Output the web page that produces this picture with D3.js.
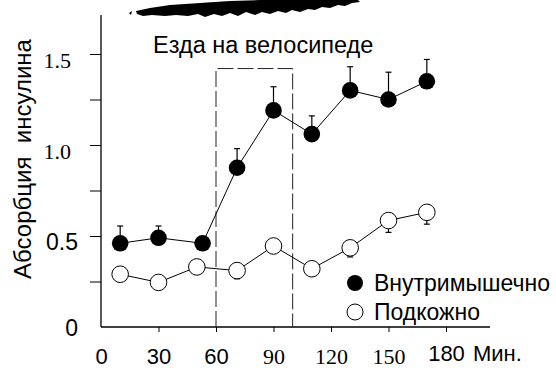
<!DOCTYPE html>
<html><head><meta charset="utf-8">
<script src="https://cdn.jsdelivr.net/npm/d3@7"></script>
<style>
html,body{margin:0;padding:0;background:#fff;}
svg{display:block;}
.sans{font-family:"Liberation Sans",Arial,sans-serif;}
.serif{font-family:"Liberation Serif","Times New Roman",serif;}
</style></head>
<body>
<svg id="c" width="556" height="370"></svg>
<script>
// ---- data ----
const imMinutes = [10, 30, 53, 71, 90, 110, 130, 150, 170];
const imValues  = [0.46, 0.49, 0.46, 0.875, 1.19, 1.06, 1.30, 1.25, 1.35];
const imErrTop  = [0.555, 0.555, null, 0.98, 1.32, 1.16, 1.43, 1.40, 1.47];
const scMinutes = [10, 30, 50, 71, 90, 110, 130, 150, 170];
const scValues  = [0.29, 0.245, 0.33, 0.31, 0.445, 0.32, 0.435, 0.585, 0.63];
const scErrBot  = [null, null, null, 0.265, null, null, 0.385, 0.52, 0.565];
const xTickValues = [0, 30, 60, 90, 120, 150, 180];
const xTickFonts  = ["sans", "sans", "sans", "serif", "serif", "serif", "sans"];
const yTickValues = [0, 0.25, 0.5, 0.75, 1.0, 1.25, 1.5];
const yTickLabels = ["0", "", "0.5", "", "1.0", "", "1.5"];
const yTickFonts  = ["sans", "sans", "sans", "sans", "serif", "sans", "serif"];
const exercisePeriod = [60, 100];
const exerciseTop = 1.42;
const seriesNames = ["Внутримышечно", "Подкожно"];
const titleText = "Езда на велосипеде";
const yLabel = "Абсорбция\u00a0\u00a0инсулина";
const xUnit = "Мин.";

const svg = d3.select("#c");
const x = d3.scaleLinear().domain([0, 180]).range([101, 446]);
const y = d3.scaleLinear().domain([0, 1.5]).range([327, 54]);
const xEnd = 490, yTop = 15;

// scribble artifact at top
svg.append("path")
  .attr("d", "M129,13 L132,11 L131,15 Z M136,11 L150,8 L170,5 L200,3 L230,1 L260,0 L300,0 L358,0 L360,2 L352,3 L345,6 L338,5 L330,8 L322,7 L315,10 L308,9 L300,12 L292,10 L286,13 L278,11 L270,14 L262,12 L255,15 L246,12 L238,16 L230,13 L222,16 L214,14 L205,17 L198,14 L188,16 L176,15 L165,16 L152,15 L143,16 L137,14 Z")
  .attr("fill", "#000");

// axes lines
svg.append("line").attr("x1", x(0)).attr("x2", xEnd).attr("y1", y(0)).attr("y2", y(0))
  .attr("stroke", "#000").attr("stroke-width", 1.3);
svg.append("line").attr("x1", x(0)).attr("x2", x(0)).attr("y1", yTop).attr("y2", y(0))
  .attr("stroke", "#000").attr("stroke-width", 1.3);

const yAxis = d3.axisLeft(y).tickValues(yTickValues).tickSize(11).tickPadding(12)
  .tickFormat((d, i) => yTickLabels[i]);
const ya = svg.append("g").attr("transform", `translate(${x(0)},0)`).call(yAxis);
ya.attr("font-family", null).attr("font-size", null);
ya.select(".domain").remove();
ya.selectAll(".tick line").attr("stroke", "#000").attr("stroke-width", 1)
  .attr("display", d => d === 0 ? "none" : null);
ya.selectAll(".tick text").attr("class", (d, i) => yTickFonts[i])
  .style("font-size", (d, i) => yTickFonts[i] === "serif" ? "22px" : "23px")
  .attr("fill", "#000")
  .attr("x", (d, i) => yTickFonts[i] === "serif" ? -30 : -23)
  .attr("dy", (d, i) => d === 0 ? "0.38em" : "0.6em");

const xAxis = d3.axisBottom(x).tickValues(xTickValues).tickSize(5).tickPadding(20)
  .tickFormat(d3.format("d"));
const xa = svg.append("g").attr("transform", `translate(0,${y(0)})`).call(xAxis);
xa.attr("font-family", null).attr("font-size", null);
xa.select(".domain").remove();
xa.selectAll(".tick line").attr("stroke", "#000").attr("display", d => d === 0 ? "none" : null);
xa.selectAll(".tick text").attr("class", (d, i) => xTickFonts[i])
  .style("font-size", (d, i) => xTickFonts[i] === "serif" ? "22px" : "22px")
  .attr("fill", "#000")
  .attr("y", d => d === 180 ? 34 : 37)
  .attr("dy", 0);

svg.append("text").attr("class", "sans").attr("x", 473).attr("y", y(0) + 34)
  .style("font-size", "22px").text(xUnit);

// y label
svg.append("text").attr("class", "sans")
  .attr("transform", "translate(31,159) rotate(-90)")
  .attr("text-anchor", "middle").style("font-size", "24px").text(yLabel);

// title
svg.append("text").attr("class", "sans").attr("x", 153).attr("y", 53)
  .style("font-size", "23.5px").text(titleText);

// exercise box (dashed)
const bx0 = x(exercisePeriod[0]), bx1 = x(exercisePeriod[1]), by = y(exerciseTop);
svg.append("path")
  .attr("d", `M${bx0},${y(0)} L${bx0},${by} L${bx1},${by} L${bx1},${y(0)}`)
  .attr("fill", "none").attr("stroke", "#222").attr("stroke-width", 1)
  .attr("stroke-dasharray", "16,4");

// lines
const line = d3.line().x(d => x(d[0])).y(d => y(d[1]));
svg.append("path").datum(imMinutes.map((m, i) => [m, imValues[i]]))
  .attr("d", line).attr("fill", "none").attr("stroke", "#000").attr("stroke-width", 1);
svg.append("path").datum(scMinutes.map((m, i) => [m, scValues[i]]))
  .attr("d", line).attr("fill", "none").attr("stroke", "#000").attr("stroke-width", 1);

// error bars
imMinutes.forEach((m, i) => {
  if (imErrTop[i] == null) return;
  svg.append("line").attr("x1", x(m)).attr("x2", x(m)).attr("y1", y(imValues[i])).attr("y2", y(imErrTop[i]))
    .attr("stroke", "#000").attr("stroke-width", 1.2);
  svg.append("line").attr("x1", x(m) - 3).attr("x2", x(m) + 3).attr("y1", y(imErrTop[i])).attr("y2", y(imErrTop[i]))
    .attr("stroke", "#000").attr("stroke-width", 1.2);
});
scMinutes.forEach((m, i) => {
  if (scErrBot[i] == null) return;
  svg.append("line").attr("x1", x(m)).attr("x2", x(m)).attr("y1", y(scValues[i])).attr("y2", y(scErrBot[i]))
    .attr("stroke", "#000").attr("stroke-width", 1.2);
  svg.append("line").attr("x1", x(m) - 3).attr("x2", x(m) + 3).attr("y1", y(scErrBot[i])).attr("y2", y(scErrBot[i]))
    .attr("stroke", "#000").attr("stroke-width", 1.2);
});

// points
svg.selectAll(".im").data(imMinutes).enter().append("circle")
  .attr("cx", d => x(d)).attr("cy", (d, i) => y(imValues[i])).attr("r", 8.3).attr("fill", "#000");
svg.selectAll(".sc").data(scMinutes).enter().append("circle")
  .attr("cx", d => x(d)).attr("cy", (d, i) => y(scValues[i])).attr("r", 8.3)
  .attr("fill", "#fff").attr("stroke", "#000").attr("stroke-width", 1);

// legend
const lg = svg.append("g");
lg.append("circle").attr("cx", 355).attr("cy", 283).attr("r", 8).attr("fill", "#000");
lg.append("circle").attr("cx", 355).attr("cy", 312).attr("r", 8).attr("fill", "#fff").attr("stroke", "#000");
lg.append("text").attr("class", "sans").attr("x", 374).attr("y", 291).style("font-size", "23px").text(seriesNames[0]);
lg.append("text").attr("class", "sans").attr("x", 374).attr("y", 320).style("font-size", "23px").text(seriesNames[1]);
</script>
</body></html>
